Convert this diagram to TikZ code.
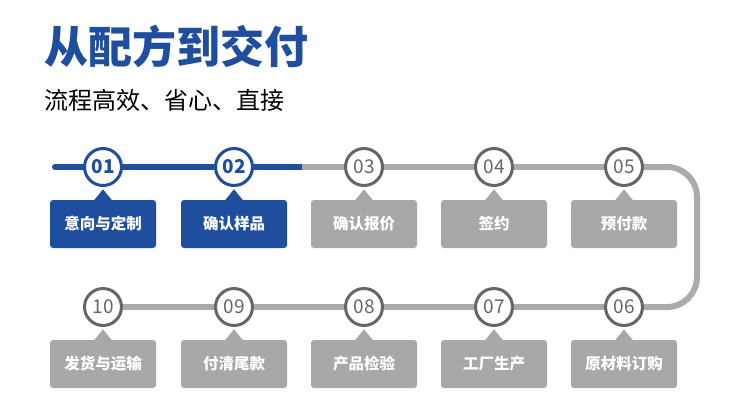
\documentclass[tikz,border=0pt]{standalone}
\usepackage{fontspec}
\setmainfont{Noto Sans CJK SC}
\definecolor{zblue}{HTML}{1F4E9F}
\definecolor{zgray}{HTML}{A9A7A9}
\definecolor{zline}{HTML}{ABABAB}
\definecolor{zring}{HTML}{666666}
\colorlet{donecol}{zblue}
\colorlet{todocol}{zgray}
\tikzset{
  ring/.style={circle,line width=3pt,fill=white,minimum size=37pt,inner sep=0pt,
    font=\fontsize{19}{19}\selectfont},
  done ring/.style={draw=zblue,text=zblue,font=\fontsize{19}{19}\selectfont\bfseries},
  todo ring/.style={draw=zring,text=zring},
  card/.style={rounded corners=3pt,minimum width=106pt,minimum height=48pt,inner sep=0pt,
    text=white,font=\fontsize{15.5}{16}\selectfont\bfseries},
  done card/.style={fill=donecol},
  todo card/.style={fill=todocol},
  track/.style={line width=6pt}
}

\begin{document}
\begin{tikzpicture}[x=1pt,y=-1pt]
    \useasboundingbox (0,0) rectangle (750,408);
    \node[anchor=west,inner sep=0pt,text=zblue,font=\fontsize{44}{44}\selectfont\bfseries] (title) at (44,47) {从配方到交付};
    \node[anchor=west,inner sep=0pt,font=\fontsize{24}{24}\selectfont] (subtitle) at (44,100) {流程高效、省心、直接};
    % steps
    \foreach \n/\px/\py/\lab/\st in {01/103/167/意向与定制/done,02/234/167/确认样品/done,
        03/364/167/确认报价/todo,04/494/167/签约/todo,05/624/167/预付款/todo,
        06/624/307/原材料订购/todo,07/494/307/工厂生产/todo,08/364/307/产品检验/todo,
        09/234/307/付清尾款/todo,10/103/307/发货与运输/todo}{
      \node[ring,\st\space ring] (c\n) at (\px,\py) {\n};
      \node[card,\st\space card] (b\n) at (\px,\py+57) {\lab};
      \fill[\st col] (b\n.north) ++(-9,0.5) -- ++(9,-11) -- ++(9,11) -- cycle;
    }
    % track
    \coordinate (start) at (55,167);
    \coordinate (split) at (302,167);
    \coordinate (turn) at (697,237);
    \draw[track,zblue,line cap=round] (start) -- (c01);
    \draw[track,zblue] (c01) -- (c02) (c02) -- (split);
    \draw[track,zline] (split) -- (c03) (c03) -- (c04) (c04) -- (c05);
    \draw[track,zline,rounded corners=30pt] (c05.east) -| (turn) |- (c06.east);
    \draw[track,zline] (c06) -- (c07) (c07) -- (c08) (c08) -- (c09) (c09) -- (c10);
\end{tikzpicture}
\end{document}
